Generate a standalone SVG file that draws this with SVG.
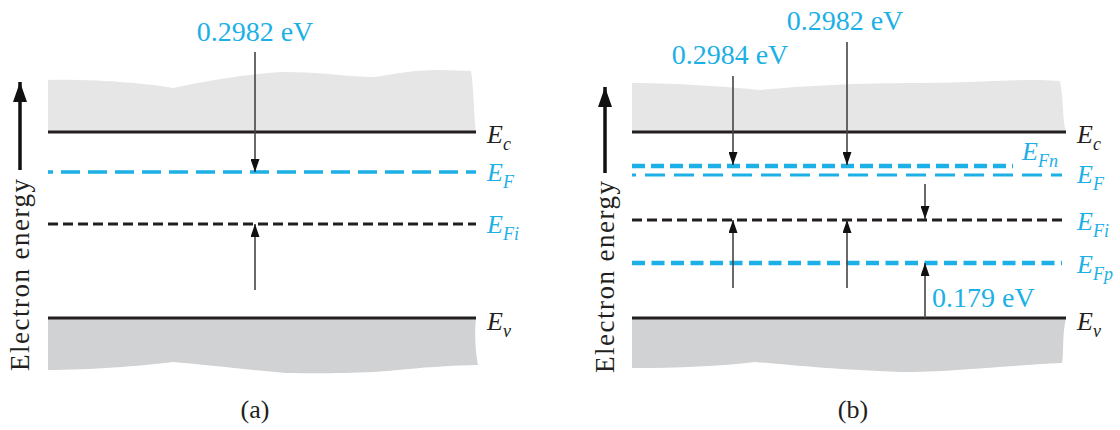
<svg xmlns="http://www.w3.org/2000/svg" width="1120" height="430" viewBox="0 0 1120 430">
<style>
.cb{fill:#e6e6e6}
.vb{fill:#d1d2d4}
.band{stroke:#231f20;stroke-width:3;fill:none}
.ef{stroke:#1cb0e6;fill:none}
.efi{stroke:#231f20;stroke-width:3;fill:none;stroke-dasharray:10 5}
.arr{stroke:#444;stroke-width:1.6;fill:none;marker-end:url(#ah)}
.big{stroke:#111;stroke-width:3.5;fill:none;marker-end:url(#bah)}
text{font-family:'Liberation Serif','Times New Roman',Tinos,'DejaVu Serif',serif}
.val{font-size:28px;fill:#1cb0e6}
.lbl{font-size:26px;font-style:italic}
.sub{font-size:18px}
.blk{fill:#231f20}
.blu{fill:#1cb0e6}
.axis{font-size:27px;fill:#231f20}
.cap{font-size:26px;fill:#231f20}
</style>
<defs>
<marker id="ah" markerUnits="userSpaceOnUse" markerWidth="13" markerHeight="9" refX="13" refY="4.5" orient="auto"><path d="M0,0 L13,4.5 L0,9 Z" fill="#111"/></marker>
<marker id="bah" markerUnits="userSpaceOnUse" markerWidth="20" markerHeight="14" refX="20" refY="7" orient="auto"><path d="M0,0 L20,7 L0,14 Z" fill="#111"/></marker>
</defs>

<g id="panel-a">
<g id="a-conduction-band">
<path class="cb" d="M48,80 C100,79 150,84 173,88 C200,82 250,73 286,72 C320,72 350,77 375,77 C395,74 410,70 440,70 L471,71 C474,90 474,120 476,132 L48,132 Z"/>
<path class="band" d="M48,132 H476"/>
<text class="lbl blk" x="487" y="143">E<tspan class="sub" dy="7">c</tspan></text>
</g>
<g id="a-ef">
<path class="ef" stroke-width="3.5" stroke-dasharray="19 8" stroke-dashoffset="14" d="M48,172 H476"/>
<text class="lbl blu" x="487" y="181">E<tspan class="sub" dy="7">F</tspan></text>
</g>
<g id="a-efi">
<path class="efi" d="M48,224 H476"/>
<text class="lbl blu" x="487" y="233">E<tspan class="sub" dy="7">Fi</tspan></text>
</g>
<g id="a-valence-band">
<path class="vb" d="M48,318 L476,318 C474,335 476,355 478,365 C430,366 400,370 375,372 C330,374 300,373 286,373 C240,369 200,364 173,362 C140,366 90,370 48,370 Z"/>
<path class="band" d="M48,318 H476"/>
<text class="lbl blk" x="487" y="330">E<tspan class="sub" dy="7">v</tspan></text>
</g>
<g id="a-axis">
<text class="axis" text-anchor="middle" textLength="192" lengthAdjust="spacing" transform="translate(29,275) rotate(-90)">Electron energy</text>
</g>
<g id="a-value">
<text class="val" x="255" y="41" text-anchor="middle">0.2982 eV</text>
</g>
<text class="cap" x="255" y="418" text-anchor="middle">(a)</text>
</g>

<g id="panel-b">
<g id="b-conduction-band">
<path class="cb" d="M632,83 C680,83 730,87 760,90 C800,86 860,83 917,83 C960,83 1000,80 1040,80 L1060,81 C1064,100 1062,120 1066,132 L632,132 Z"/>
<path class="band" d="M632,132 H1066"/>
<text class="lbl blk" x="1077" y="143">E<tspan class="sub" dy="7">c</tspan></text>
</g>
<g id="b-efn">
<path class="ef" stroke-width="4.5" stroke-dasharray="13 6" d="M632,166 H1013"/>
<text class="lbl blu" x="1022" y="160">E<tspan class="sub" dy="7">Fn</tspan></text>
</g>
<g id="b-ef">
<path class="ef" stroke-width="3" stroke-dasharray="20 9" stroke-dashoffset="16" d="M632,175 H1062"/>
<text class="lbl blu" x="1077" y="183">E<tspan class="sub" dy="7">F</tspan></text>
</g>
<g id="b-efi">
<path class="efi" d="M632,220 H1062"/>
<text class="lbl blu" x="1077" y="230">E<tspan class="sub" dy="7">Fi</tspan></text>
</g>
<g id="b-efp">
<path class="ef" stroke-width="4.5" stroke-dasharray="13 6.5" d="M632,263 H1062"/>
<text class="lbl blu" x="1077" y="273">E<tspan class="sub" dy="7">Fp</tspan></text>
</g>
<g id="b-valence-band">
<path class="vb" d="M632,318 L1066,318 C1062,335 1064,355 1062,363 C1000,366 950,372 900,372 C840,370 790,365 755,362 C720,366 680,368 632,368 Z"/>
<path class="band" d="M632,318 H1066"/>
<text class="lbl blk" x="1077" y="330">E<tspan class="sub" dy="7">v</tspan></text>
</g>
<g id="b-axis">
<text class="axis" text-anchor="middle" textLength="192" lengthAdjust="spacing" transform="translate(614,277) rotate(-90)">Electron energy</text>
</g>
<g id="b-values">
<text class="val" x="730" y="64" text-anchor="middle">0.2984 eV</text>
<text class="val" x="845" y="30" text-anchor="middle">0.2982 eV</text>
<text class="val" x="932" y="307">0.179 eV</text>
</g>
<text class="cap" x="853" y="418" text-anchor="middle">(b)</text>
</g>

<g id="connectors">
<path class="big" d="M20,170 V82"/>
<path class="big" d="M605,173 V87"/>
<path class="arr" d="M255,52 V172"/>
<path class="arr" d="M255,290 V224"/>
<path class="arr" d="M733,76 V165"/>
<path class="arr" d="M733,288 V220"/>
<path class="arr" d="M847,42 V165"/>
<path class="arr" d="M847,288 V220"/>
<path class="arr" d="M925,184 V219"/>
<path class="arr" d="M925,318 V263"/>
</g>
</svg>
